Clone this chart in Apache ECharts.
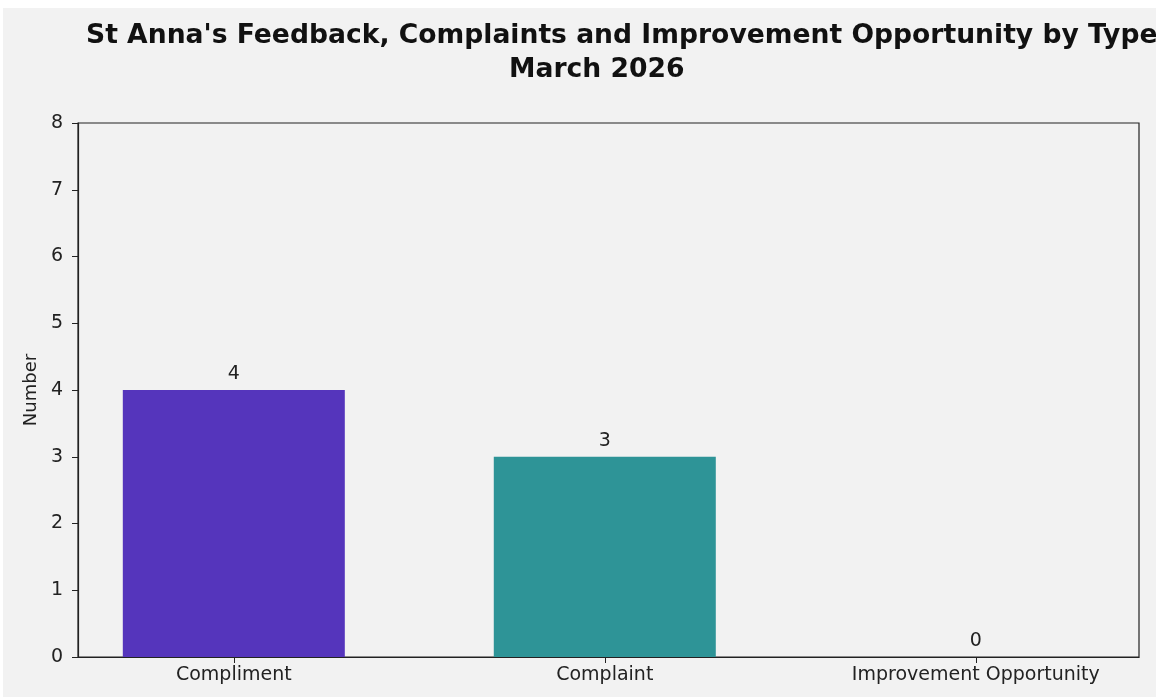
<!DOCTYPE html>
<html>
<head>
<meta charset="utf-8">
<script src="https://cdn.jsdelivr.net/npm/echarts@6/dist/echarts.min.js"></script>
<style>
  html, body { margin: 0; padding: 0; background: #ffffff; }
  #chart { position: absolute; left: 3px; top: 8px; width: 1153px; height: 689px; }
</style>
</head>
<body>
<div id="chart"></div>
<script>
const categories = ['Compliment', 'Complaint', 'Improvement Opportunity'];
const counts = [4, 3, 0];
const barColors = ['#5535bc', '#2e9497', '#d9d9d9'];
const yTicks = [0, 1, 2, 3, 4, 5, 6, 7, 8];

const myChart = echarts.init(document.getElementById('chart'));

const font = 'DejaVu Sans';
const option = {
  backgroundColor: '#f2f2f2',
  animation: false,
  textStyle: { fontFamily: font },
  title: [
    {
      text: "St Anna's Feedback, Complaints and Improvement Opportunity by Type",
      left: 78,
      top: 10,
      textStyle: { fontFamily: font, fontWeight: 'bold', fontSize: 26.6, color: '#111' }
    },
    {
      text: 'March 2026',
      left: 501,
      top: 44,
      textStyle: { fontFamily: font, fontWeight: 'bold', fontSize: 26.6, color: '#111' }
    }
  ],
  grid: {
    left: 75,
    right: 17,
    top: 115,
    bottom: 40,
    show: true,
    borderColor: '#222',
    borderWidth: 1.2,
    backgroundColor: 'transparent'
  },
  xAxis: {
    type: 'value',
    min: -0.42,
    max: 2.44,
    splitLine: { show: false },
    axisLine: { show: true, onZero: false, lineStyle: { color: '#222', width: 1.2 } },
    axisTick: { show: true, length: 6, customValues: [0, 1, 2], lineStyle: { color: '#222' } },
    axisLabel: {
      customValues: [0, 1, 2],
      formatter: v => categories[Math.round(v)],
      fontSize: 19,
      color: '#222',
      margin: 9
    }
  },
  yAxis: {
    type: 'value',
    min: yTicks[0],
    max: yTicks[yTicks.length - 1],
    interval: 1,
    name: 'Number',
    nameLocation: 'middle',
    nameGap: 38,
    nameTextStyle: { fontSize: 18, color: '#222' },
    splitLine: { show: false },
    axisLine: { show: true, onZero: false, lineStyle: { color: '#222', width: 1.2 } },
    axisTick: { show: true, length: 6, lineStyle: { color: '#222' } },
    axisLabel: { fontSize: 19, color: '#222', margin: 15 }
  },
  series: [
    {
      type: 'bar',
      barWidth: 222,
      data: counts.map((v, i) => ({ value: [i, v], itemStyle: { color: barColors[i] } })),
      label: {
        show: true,
        position: 'top',
        distance: 6,
        fontSize: 19,
        color: '#222',
        formatter: p => p.value[1]
      }
    }
  ]
};
myChart.setOption(option);
</script>
</body>
</html>
